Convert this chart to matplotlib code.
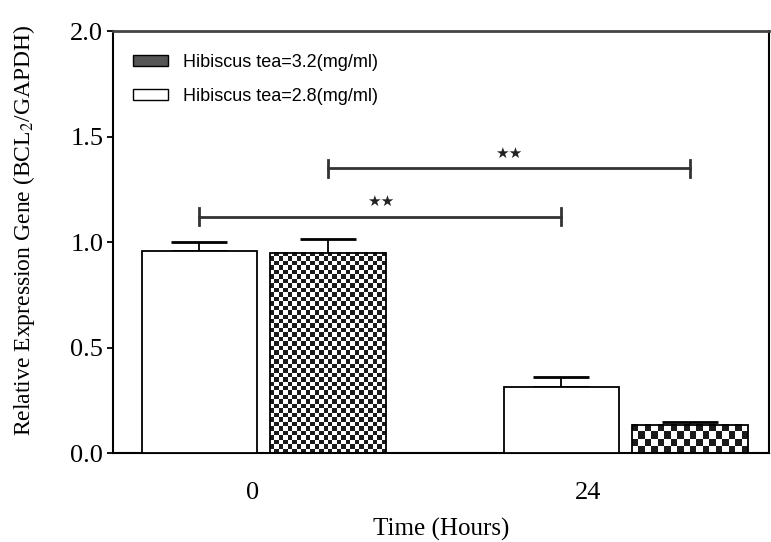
import numpy as np
import matplotlib
matplotlib.use('Agg')
import matplotlib.pyplot as plt
from matplotlib.patches import Patch
from matplotlib.colors import ListedColormap

plt.rcParams['font.family'] = 'Liberation Serif'
plt.rcParams['mathtext.fontset'] = 'stix'

groups = ['0', '24']
tea_28 = [0.955, 0.313]
tea_28_err = [0.045, 0.048]
tea_32 = [0.948, 0.133]
tea_32_err = [0.068, 0.015]
label_28 = 'Hibiscus tea=2.8(mg/ml)'
label_32 = 'Hibiscus tea=3.2(mg/ml)'
sig_low = 1.12   # 2.8 at 0h vs 2.8 at 24h
sig_high = 1.35  # 3.2 at 0h vs 3.2 at 24h
sig_text = '★★'

fig = plt.figure(figsize=(7.71, 5.42), dpi=100)
ax = fig.add_axes([0.1466, 0.1642, 0.851, 0.7786])

x = np.arange(len(groups))
off = 0.1775
w = 0.318

b28 = ax.bar(x - off, tea_28, w, color='white', edgecolor='black', lw=1.3, zorder=3)
b32 = ax.bar(x + off, tea_32, w, color='none', edgecolor='black', lw=1.3, zorder=3)
ax.errorbar(x - off, tea_28, yerr=[np.zeros(2), tea_28_err], fmt='none', ecolor='black',
            elinewidth=1.3, capsize=20, capthick=2, zorder=1)
ax.errorbar(x + off, tea_32, yerr=[np.zeros(2), tea_32_err], fmt='none', ecolor='black',
            elinewidth=1.3, capsize=20, capthick=2, zorder=1)

ax.set_xlim(-0.416, 1.396)
ax.set_ylim(0, 2.0)

# checkerboard fill for the 3.2 bars (cell size in pixels differs per bar)
cmap = ListedColormap(['white', '#1a1a1a'])
cell_px = [4.4, 6.5]
for bar, cs in zip(b32, cell_px):
    x0, y0 = bar.get_x(), bar.get_y()
    bw, bh = bar.get_width(), bar.get_height()
    p0 = ax.transData.transform((x0, y0))
    p1 = ax.transData.transform((x0 + bw, y0 + bh))
    nc = max(1, int(round((p1[0] - p0[0]) / cs)))
    nr = max(1, int(round((p1[1] - p0[1]) / cs)))
    board = np.indices((nr, nc)).sum(axis=0) % 2
    ax.imshow(board, cmap=cmap, vmin=0, vmax=1, extent=(x0, x0 + bw, y0, y0 + bh),
              aspect='auto', interpolation='nearest', origin='lower', zorder=2)
ax.set_xlim(-0.416, 1.396)
ax.set_ylim(0, 2.0)

# significance brackets
def bracket(xa, xb, h):
    ax.plot([xa, xb], [h, h], color='#333333', lw=2)
    ax.plot([xa, xa], [h - 0.04, h + 0.04], color='#333333', lw=2)
    ax.plot([xb, xb], [h - 0.04, h + 0.04], color='#333333', lw=2)
    ax.text((xa + xb) / 2, h + 0.07, sig_text, ha='center', va='center',
            fontsize=11, family='DejaVu Sans', color='#222222')

bracket(x[0] - off, x[1] - off, sig_low)
bracket(x[0] + off, x[1] + off, sig_high)

h32 = Patch(facecolor='#555555', edgecolor='black', lw=1)
h28 = Patch(facecolor='white', edgecolor='black', lw=1)
ax.legend(handles=[h32, h28], labels=[label_32, label_28], loc='upper left',
          bbox_to_anchor=(0.03, 0.946), frameon=False, borderpad=0, borderaxespad=0,
          handlelength=1.94, handleheight=0.5, labelspacing=0.95, handletextpad=0.83,
          prop={'family': 'Liberation Sans', 'size': 13})

ax.set_xticks([-0.03, 0.895])
ax.set_xticklabels(groups)
ax.set_yticks([0, 0.5, 1.0, 1.5, 2.0])
ax.set_yticklabels(['0.0', '0.5', '1.0', '1.5', '2.0'])
ax.tick_params(axis='x', length=0, pad=21, labelsize=19)
ax.tick_params(axis='y', direction='out', length=4, width=1.3, pad=3, labelsize=19)

for s in ax.spines.values():
    s.set_linewidth(1.5)
ax.spines['top'].set_color('#444444')
ax.spines['top'].set_linewidth(2)

ax.set_xlabel('Time (Hours)', fontsize=18, labelpad=10)
ax.set_ylabel('Relative Expression Gene (BCL$_2$/GAPDH)', fontsize=17, va='center')
ax.yaxis.set_label_coords(-0.136, 0.528)

fig.savefig('out.png', dpi=100)
